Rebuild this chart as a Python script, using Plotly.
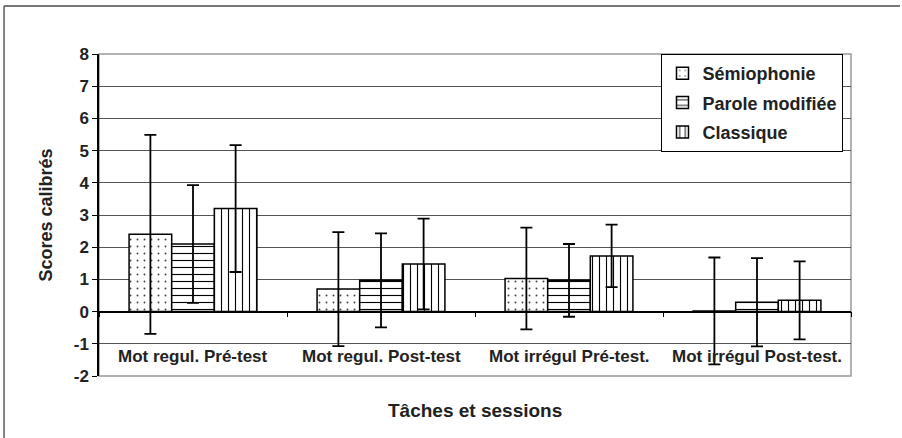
import plotly.graph_objects as go

categories = ["Mot regul. Pré-test", "Mot regul. Post-test", "Mot irrégul Pré-test.", "Mot irrégul Post-test."]
series_names = ["Sémiophonie", "Parole modifiée", "Classique"]
semio = [2.40, 0.70, 1.03, 0.02]
semio_err = [3.09, 1.77, 1.58, 1.66]
parole = [2.10, 0.97, 0.97, 0.29]
parole_err = [1.83, 1.46, 1.13, 1.37]
classique = [3.20, 1.48, 1.73, 0.35]
classique_err = [1.97, 1.41, 0.97, 1.21]
y_ticks = [-2, -1, 0, 1, 2, 3, 4, 5, 6, 7, 8]
y_tick_labels = ["-2", "-1", "0", "1", "2", "3", "4", "5", "6", "7", "8"]

FONT = "Arial, 'Liberation Sans', sans-serif"
values = [semio, parole, classique]
errors = [semio_err, parole_err, classique_err]
patterns = [
    dict(shape=".", size=7, solidity=0.06, fgcolor="#444", bgcolor="white", fillmode="replace"),
    dict(shape="-", size=7, solidity=0.16, fgcolor="black", bgcolor="white", fillmode="replace"),
    dict(shape="|", size=7, solidity=0.16, fgcolor="black", bgcolor="white", fillmode="replace"),
]

fig = go.Figure()
for i in range(3):
    fig.add_trace(go.Bar(
        name=f"<b>{series_names[i]}</b>", x=categories, y=values[i],
        legendgroup=f"g{i}",
        marker=dict(color="white", pattern=patterns[i], line=dict(color="black", width=1.5)),
        error_y=dict(type="data", array=errors[i], visible=True, color="black", thickness=1.8, width=6),
    ))

for c in categories:
    fig.add_annotation(x=c, y=-1.38, xref="x", yref="y", text=f"<b>{c}</b>", showarrow=False,
                       font=dict(family=FONT, size=17, color="#222"), yanchor="middle")

fig.add_annotation(x=0.5, y=-0.106, xref="paper", yref="paper", text="<b>Tâches et sessions</b>",
                   showarrow=False, font=dict(family=FONT, size=19, color="#222"), yanchor="middle")

# plot-area border and outer chart frame
fig.add_shape(type="rect", xref="paper", yref="paper", x0=0, y0=0, x1=1, y1=1,
              line=dict(color="#999", width=1.5), layer="below")
fig.add_shape(type="line", xref="paper", yref="paper", x0=-0.1263, y0=1.149, x1=1.0652, y1=1.149,
              line=dict(color="#777", width=2))
fig.add_shape(type="line", xref="paper", yref="paper", x0=-0.1263, y0=1.149, x1=-0.1263, y1=-0.2,
              line=dict(color="#333", width=1.2))

fig.update_layout(
    width=902, height=438,
    margin=dict(l=99, r=51, t=54, b=62),
    paper_bgcolor="white", plot_bgcolor="white",
    barmode="group", bargap=0.32, bargroupgap=0,
    showlegend=True,
    legend=dict(x=0.748, y=1.0, xanchor="left", yanchor="top",
                bordercolor="black", borderwidth=1, bgcolor="white",
                font=dict(family=FONT, size=18, color="#222"),
                tracegroupgap=3, itemwidth=30),
    xaxis=dict(anchor="free", position=0.2, showline=True, linecolor="black", linewidth=1.5,
               ticks="outside", tickson="boundaries", ticklen=5, tickcolor="black",
               showticklabels=False, showgrid=False, zeroline=False, fixedrange=True),
    yaxis=dict(range=[-2, 8], tickvals=y_ticks, ticktext=y_tick_labels,
               showline=True, linecolor="black", linewidth=1.5,
               ticks="outside", ticklen=5, tickcolor="black", ticksuffix=" ",
               tickfont=dict(family=FONT, size=17, color="#222", weight="bold"),
               showgrid=True, gridcolor="#555", gridwidth=1, zeroline=False,
               title=dict(text="<b>Scores calibrés</b>", font=dict(family=FONT, size=18, color="#222"), standoff=16),
               automargin=False, fixedrange=True),
)

fig.write_html("out.html", config={"displayModeBar": False},
               post_script="document.body.style.margin='0';")
